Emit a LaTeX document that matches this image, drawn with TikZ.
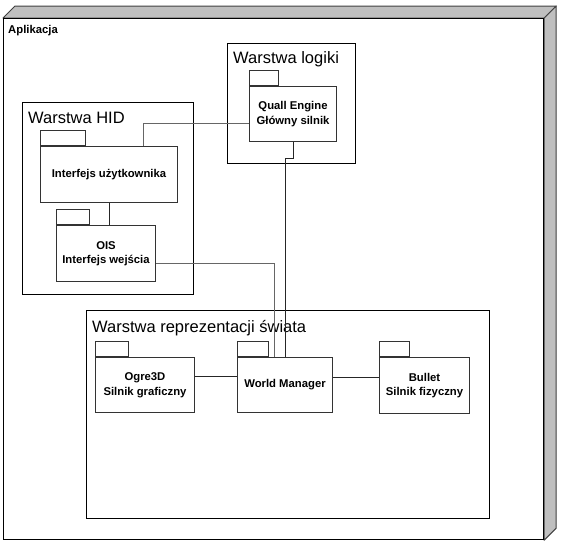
\documentclass[tikz,border=0pt]{standalone}
\usepackage{fontspec}
\setmainfont{Liberation Sans}
\usetikzlibrary{positioning}

\begin{document}
\begin{tikzpicture}[
  x=1pt, y=-1pt,
  every node/.style={inner sep=0pt},
  appbox/.style={draw, line width=1.2pt, fill=white, anchor=north west,
    minimum width=540pt, minimum height=521pt},
  face/.style={fill=black!25, draw=black!75, line width=1pt, line join=round},
  layer/.style={draw, line width=1.2pt, anchor=north west},
  title/.style={anchor=base west, font=\fontsize{16.5}{19}\selectfont},
  apptitle/.style={anchor=base west, font=\bfseries\fontsize{11.3}{13}\selectfont},
  pkg/.style={draw=black!80, line width=1pt, fill=white, anchor=north west,
    minimum height=55pt, align=center,
    font=\bfseries\fontsize{11.3}{14.5}\selectfont},
  tab/.style={draw=black!80, line width=1pt, anchor=south west,
    minimum height=15pt},
  conn/.style={line width=1pt, draw=black!60},
  link/.style={line width=1pt, draw=black!85}
]
  \useasboundingbox (0,0) rectangle (564,544);

  % application node (3D box)
  \node[appbox] (app) at (3,18) {};
  \fill[face] (app.north west) -- ++(12,-12) -- ([shift={(12,-12)}]app.north east)
    -- (app.north east) -- cycle;
  \fill[face] (app.north east) -- ++(12,-12) -- ([shift={(12,-12)}]app.south east)
    -- (app.south east) -- cycle;
  \node[appbox, fill=none] at (3,18) {};
  \node[apptitle] (apptxt) at (8,33) {Aplikacja};

  % layers
  \node[layer, minimum width=128pt, minimum height=120pt] (logic) at (227,43) {};
  \node[layer, minimum width=171pt, minimum height=192pt] (hid) at (22,102) {};
  \node[layer, minimum width=403pt, minimum height=208pt] (world) at (86,310) {};
  \node[title] (logict) at ([shift={(6,20)}]logic.north west) {Warstwa logiki};
  \node[title] (hidt) at ([shift={(6,21)}]hid.north west) {Warstwa HID};
  \node[title] (worldt) at ([shift={(6,22)}]world.north west) {Warstwa reprezentacji świata};

  % packages
  \node[pkg, minimum width=87pt] (quall) at (249,86) {Quall Engine\\Główny silnik};
  \node[tab, minimum width=29pt] (quallTab) at (quall.north west) {};
  \node[pkg, minimum width=137pt, minimum height=56pt] (ui) at (40,146) {Interfejs użytkownika};
  \node[tab, minimum width=45pt] (uiTab) at (ui.north west) {};
  \node[pkg, minimum width=99pt, minimum height=56pt] (ois) at (56,225) {OIS\\Interfejs wejścia};
  \node[tab, minimum width=33pt] (oisTab) at (ois.north west) {};
  \node[pkg, minimum width=99pt] (ogre) at (95,357) {Ogre3D\\Silnik graficzny};
  \node[tab, minimum width=33pt] (ogreTab) at (ogre.north west) {};
  \node[pkg, minimum width=95pt] (wm) at (237,357) {World Manager};
  \node[tab, minimum width=31pt] (wmTab) at (wm.north west) {};
  \node[pkg, minimum width=90pt, minimum height=56pt] (bullet) at (379,357) {Bullet\\Silnik fizyczny};
  \node[tab, minimum width=30pt] (bulletTab) at (bullet.north west) {};

  % connectors
  \draw[conn] ([yshift=-9.5pt]quall.west) -| ([xshift=34.5pt]ui.north);
  \draw[link] (quall.south) -- ++(0,16) -| (wm.north);
  \draw[link] (ui.south) -- (ui.south |- ois.north);
  \draw[conn] ([yshift=-10pt]ois.east) -| ([xshift=-10.5pt]wm.north);
  \draw[link] ([yshift=8.5pt]ogre.east) -- ([yshift=8.5pt]ogre.east -| wm.west);
  \draw[link] ([yshift=7.5pt]wm.east) -- ([yshift=7.5pt]wm.east -| bullet.west);
\end{tikzpicture}
\end{document}
